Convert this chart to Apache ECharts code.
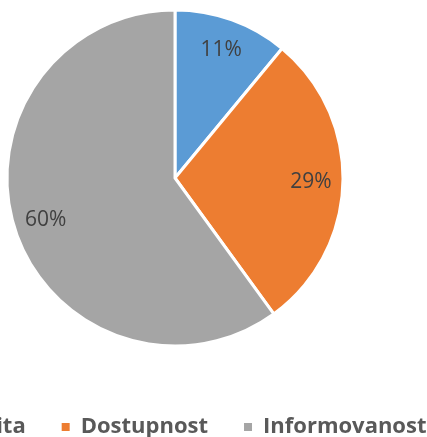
<!DOCTYPE html>
<html>
<head>
<meta charset="utf-8">
<script src="https://cdn.jsdelivr.net/npm/echarts@6/dist/echarts.min.js"></script>
<style>
  html, body { margin: 0; padding: 0; background: #fff; }
  #chart { width: 427px; height: 437px; }
</style>
</head>
<body>
<div id="chart"></div>
<script>
// data
var categories = ['Kvalita', 'Dostupnost', 'Informovanost']
var shares = [11, 29, 60]
var colors = ['#5B9BD5', '#ED7D31', '#A5A5A5']

var pieData = categories.map(function (name, i) {
  return { name: name, value: shares[i], itemStyle: { color: colors[i] } }
})

var myChart = echarts.init(document.getElementById('chart'))

var option = {
  animation: false,
  backgroundColor: '#fff',
  legend: {
    data: categories,
    orient: 'horizontal',
    left: -72,
    top: 416,
    width: 800,
    padding: 0,
    icon: 'rect',
    itemWidth: 10,
    itemHeight: 10,
    itemGap: 34,
    textStyle: {
      fontFamily: 'Open Sans',
      fontWeight: 'bold',
      fontSize: 22,
      color: '#595959',
      padding: [0, 0, 0, 5]
    }
  },
  series: [{
    // slices
    type: 'pie',
    center: [175, 178],
    radius: [0, 168],
    startAngle: 90,
    clockwise: true,
    label: { show: false },
    labelLine: { show: false },
    itemStyle: { borderColor: '#fff', borderWidth: 3 },
    emphasis: { disabled: true },
    data: pieData
  }, {
    // percentage labels, placed ~80% out from centre
    type: 'pie',
    center: [175, 178],
    radius: [98, 168],
    startAngle: 90,
    clockwise: true,
    silent: true,
    itemStyle: { color: 'rgba(0,0,0,0)' },
    label: {
      show: true,
      position: 'inside',
      formatter: '{c}%',
      fontFamily: 'Open Sans',
      fontSize: 21,
      color: '#404040'
    },
    labelLine: { show: false },
    emphasis: { disabled: true },
    data: categories.map(function (name, i) {
      return { name: name, value: shares[i] }
    })
  }]
}

myChart.setOption(option)
</script>
</body>
</html>
